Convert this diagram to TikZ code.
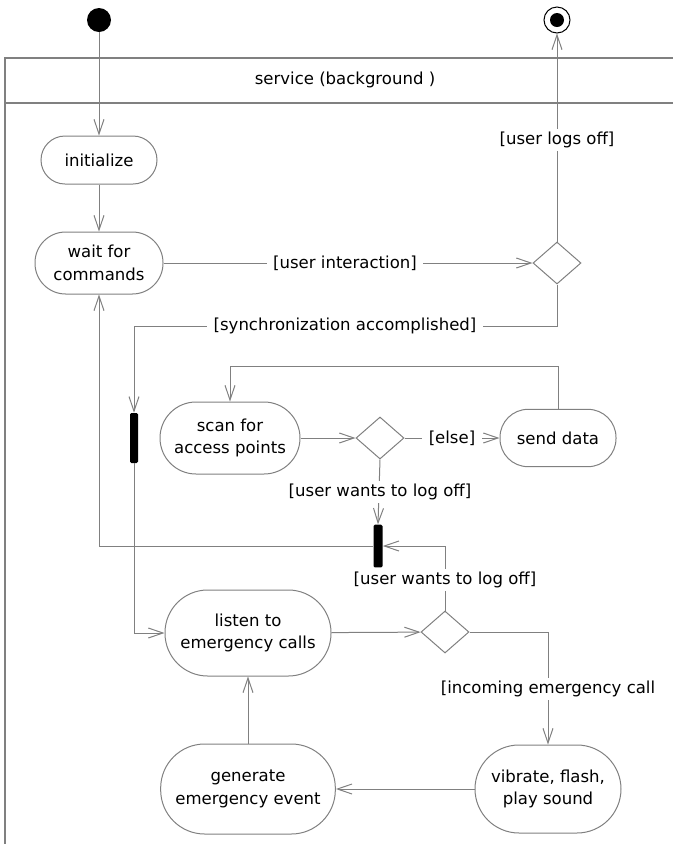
\documentclass[tikz,border=0pt]{standalone}
\usepackage{fontspec}
\setmainfont{DejaVu Sans}
\usetikzlibrary{arrows.meta,shapes.geometric}
\definecolor{lg}{RGB}{128,128,128}
\begin{document}
\begin{tikzpicture}[x=0.75pt,y=-0.75pt,
 line/.style={draw=lg, line width=0.75pt},
 arr/.style={line, -{Straight Barb[length=11pt,width=7.5pt]}},
 act/.style={draw=lg, line width=0.75pt, align=center, inner sep=0pt},
 lbl/.style={fill=white, inner xsep=5pt, inner ysep=2pt},
 dec/.style={diamond, draw=lg, line width=0.75pt, minimum width=36pt, minimum height=31.5pt, inner sep=0pt},
 bar/.style={fill=black, rounded corners=1pt, inner sep=0pt},
 font=\fontsize{12.4}{17}\selectfont]
\useasboundingbox (0,0) rectangle (673,844);
% frame
\draw[line, line width=1pt] (673,58) -- (5,58) -- (5,844);
\draw[line, line width=1pt] (5,103) -- (673,103);
\node (title) at (345,80) {service (background )};
% start / end
\node[circle, fill=black, minimum size=18pt, inner sep=0pt] (start) at (99,20) {};
\node[circle, draw=black, line width=0.75pt, minimum size=19.5pt, inner sep=0pt] (final) at (557,20) {};
\node[circle, fill=black, minimum size=10.5pt, inner sep=0pt] (finalin) at (557,20) {};
% activities
\node[act, minimum width=87pt, minimum height=36pt, rounded corners=18pt] (init) at (99,160) {initialize};
\node[act, minimum width=96pt, minimum height=46.5pt, rounded corners=23pt] (wait) at (99,263) {wait for\\commands};
\node[act, minimum width=105pt, minimum height=54pt, rounded corners=27pt] (scan) at (230,438) {scan for\\access points};
\node[act, minimum width=87pt, minimum height=43pt, rounded corners=21pt] (send) at (558,438) {send data};
\node[act, minimum width=124.5pt, minimum height=64.5pt, rounded corners=32pt] (listen) at (248,633) {listen to\\emergency calls};
\node[act, minimum width=131pt, minimum height=67.5pt, rounded corners=33pt] (gen) at (248,789) {generate\\emergency event};
\node[act, minimum width=109.5pt, minimum height=66pt, rounded corners=33pt] (vib) at (548,789) {vibrate, flash,\\play sound};
% decisions
\node[dec] (d1) at (557,263) {};
\node[dec] (d2) at (380,438) {};
\node[dec] (d3) at (445,632) {};
% forks
\node[bar, minimum width=6pt, minimum height=37.5pt] (fork1) at (134,438) {};
\node[bar, minimum width=6.75pt, minimum height=32pt] (fork2) at (378,546) {};
% helper coordinates
\coordinate (c1) at (134,326);
\coordinate (c3) at (230,366);
% connectors
\draw[arr] (start) -- (init);
\draw[arr] (init) -- (wait);
\draw[arr] (wait) -- (d1);
\draw[arr] (d1.north) -- (final.south);
\draw[arr] (d1.south) |- (c1) -- (fork1.north);
\draw[arr] (fork1.south) |- (listen.west);
\draw[arr] (send.north) |- (c3) -- (scan.north);
\draw[arr] (scan) -- (d2);
\draw[arr] (d2) -- (send);
\draw[arr] (d2.south) -- (fork2.north);
\draw[arr] (fork2.west) -| (wait.south);
\draw[arr] (d3.north) |- (fork2.east);
\draw[arr] (listen) -- (d3);
\draw[arr] (d3.east) -| (vib.north);
\draw[arr] (vib) -- (gen);
\draw[arr] (gen) -- (listen);
% labels
\node[lbl] (l1) at (345,263) {[user interaction]};
\node[lbl] (l2) at (557,140) {[user logs off]};
\node[lbl] (l3) at (345,326) {[synchronization accomplished]};
\node[lbl] (l4) at (452,438) {[else]};
\node[lbl] (l5) at (380,492) {[user wants to log off]};
\node[lbl] (l6) at (445,580) {[user wants to log off]};
\node[lbl] (l7) at (548,689) {[incoming emergency call};
\end{tikzpicture}
\end{document}
